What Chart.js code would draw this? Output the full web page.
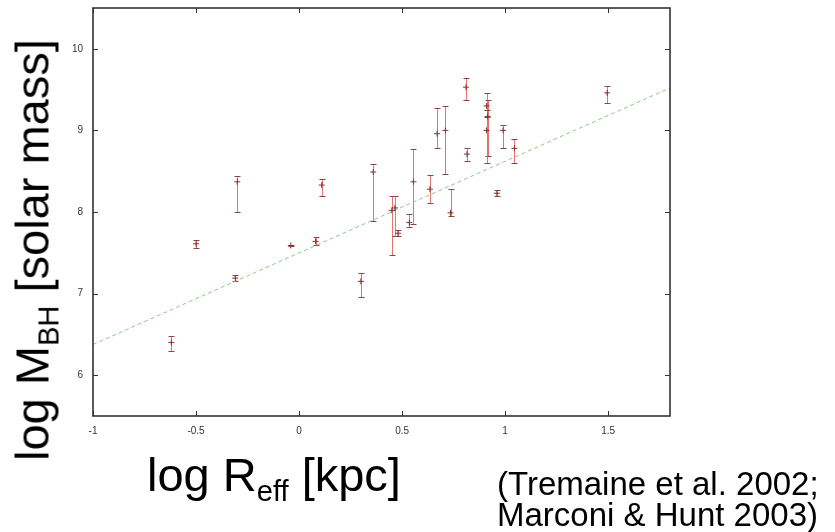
<!DOCTYPE html>
<html><head><meta charset="utf-8">
<script src="https://cdn.jsdelivr.net/npm/chart.js@4/dist/chart.umd.min.js"></script>
<style>
html,body{margin:0;padding:0;background:#fff;}
#wrap{position:relative;width:835px;height:532px;overflow:hidden;background:#fff;}
#c{position:absolute;left:0;top:0;}
.t{position:absolute;font-family:"Liberation Sans",Arial,Helvetica,sans-serif;color:#000;white-space:nowrap;line-height:1;}
.sub{font-size:62%;position:relative;top:0.36em;}
#ytitle{left:32px;top:250px;font-size:47px;transform:translate(-50%,-50%) rotate(-90deg);}
#xtitle{left:147px;top:451px;font-size:47px;}
#cite{left:497px;top:468px;font-size:33px;line-height:31px;}
</style></head><body>
<div id="wrap">
<canvas id="c" width="835" height="532"></canvas>
<div class="t" id="ytitle">log M<span class="sub">BH</span> [solar mass]</div>
<div class="t" id="xtitle">log R<span class="sub">eff</span> [kpc]</div>
<div class="t" id="cite">(Tremaine et al. 2002;<br>Marconi &amp; Hunt 2003)</div>
</div>
<script>
// ---- data ----
const logReff = [-0.62, -0.50, -0.31, -0.30, -0.04, 0.08, 0.11, 0.30, 0.36, 0.45, 0.465, 0.48, 0.535, 0.555, 0.635, 0.67, 0.71, 0.735, 0.81, 0.815, 0.91, 0.915, 0.91, 0.96, 0.99, 1.045, 1.495];
const logMbh  = [6.40, 7.61, 7.19, 8.37, 7.59, 7.64, 8.33, 7.15, 8.49, 8.02, 8.05, 7.74, 7.87, 8.37, 8.28, 8.96, 9.00, 7.99, 9.53, 8.71, 9.30, 9.17, 9.00, 8.23, 9.00, 8.78, 9.46];
const errUp   = [0.08, 0.05, 0.04, 0.07, 0.01, 0.05, 0.08, 0.10, 0.10, 0.18, 0.15, 0.04, 0.11, 0.40, 0.17, 0.32, 0.30, 0.29, 0.11, 0.08, 0.16, 0.20, 0.25, 0.04, 0.07, 0.12, 0.09];
const errDown = [0.10, 0.05, 0.04, 0.37, 0.01, 0.05, 0.13, 0.19, 0.60, 0.55, 0.35, 0.03, 0.05, 0.52, 0.17, 0.17, 0.53, 0.04, 0.16, 0.09, 0.13, 0.48, 0.40, 0.04, 0.22, 0.18, 0.12];
const fitLineX = [-1, 1.8];
const fitLineY = [6.376, 9.52];
const xTickValues = [-1, -0.5, 0, 0.5, 1, 1.5];
const yTickValues = [6, 7, 8, 9, 10];
const xRange = [-1, 1.8];
const yRange = [5.5, 10.5];

const barColor = 'rgba(225,90,90,0.85)';
const capColor = '#8c4646';
const pointColor = '#8a2f2f';

const errorBars = {
  id: 'errorBars',
  beforeDatasetsDraw(chart) {
    const {ctx, scales: {x, y}} = chart;
    ctx.save();
    ctx.lineWidth = 1;
    for (let i = 0; i < logReff.length; i++) {
      const px = Math.round(x.getPixelForValue(logReff[i])) + 0.5;
      const yt = Math.round(y.getPixelForValue(logMbh[i] + errUp[i])) + 0.5;
      const yb = Math.round(y.getPixelForValue(logMbh[i] - errDown[i])) + 0.5;
      ctx.strokeStyle = barColor;
      ctx.beginPath(); ctx.moveTo(px, yt); ctx.lineTo(px, yb); ctx.stroke();
      ctx.strokeStyle = capColor;
      ctx.beginPath();
      ctx.moveTo(px - 3, yt); ctx.lineTo(px + 3, yt);
      ctx.moveTo(px - 3, yb); ctx.lineTo(px + 3, yb);
      ctx.stroke();
    }
    ctx.restore();
  }
};

const frame = {
  id: 'frame',
  afterDraw(chart) {
    const {ctx, chartArea: a, scales: {x, y}} = chart;
    ctx.save();
    ctx.strokeStyle = '#333';
    ctx.lineWidth = 1;
    ctx.beginPath();
    xTickValues.forEach(v => {
      const px = Math.round(x.getPixelForValue(v)) + 0.5;
      ctx.moveTo(px, a.bottom); ctx.lineTo(px, a.bottom - 5);
      ctx.moveTo(px, a.top); ctx.lineTo(px, a.top + 5);
    });
    yTickValues.forEach(v => {
      const py = Math.round(y.getPixelForValue(v)) + 0.5;
      ctx.moveTo(a.left, py); ctx.lineTo(a.left + 5, py);
      ctx.moveTo(a.right, py); ctx.lineTo(a.right - 5, py);
    });
    ctx.stroke();
    ctx.lineWidth = 1.6;
    ctx.strokeRect(a.left, a.top, a.right - a.left, a.bottom - a.top);
    ctx.restore();
  }
};

new Chart(document.getElementById('c'), {
  data: {
    datasets: [
      {
        type: 'scatter',
        label: 'galaxies',
        data: logReff.map((v, i) => ({x: v, y: logMbh[i]})),
        pointStyle: 'cross',
        radius: 3,
        borderColor: pointColor,
        borderWidth: 1,
        order: 1
      },
      {
        type: 'line',
        label: 'fit',
        data: fitLineX.map((v, i) => ({x: v, y: fitLineY[i]})),
        borderColor: '#88cc88',
        borderWidth: 1,
        borderDash: [4, 3],
        pointRadius: 0,
        fill: false,
        order: 2
      }
    ]
  },
  options: {
    responsive: false,
    animation: false,
    events: [],
    layout: {padding: {left: 0, top: 8, right: 165, bottom: 0}},
    plugins: {legend: {display: false}, tooltip: {enabled: false}},
    scales: {
      x: {
        type: 'linear', min: xRange[0], max: xRange[1],
        afterBuildTicks: s => { s.ticks = xTickValues.map(v => ({value: v})); },
        afterFit: s => { s.height = 116; s.paddingLeft = 0; s.paddingRight = 0; },
        grid: {display: false, drawTicks: false},
        border: {display: false},
        ticks: {padding: 9, color: '#333', font: {family: '"Liberation Sans", Arial, sans-serif', size: 10},
                maxRotation: 0, autoSkip: false, callback: v => String(v)}
      },
      y: {
        type: 'linear', min: yRange[0], max: yRange[1],
        afterBuildTicks: s => { s.ticks = yTickValues.map(v => ({value: v})); },
        afterFit: s => { s.width = 93; s.paddingTop = 0; s.paddingBottom = 0; },
        grid: {display: false, drawTicks: false},
        border: {display: false},
        ticks: {padding: 10, color: '#333', font: {family: '"Liberation Sans", Arial, sans-serif', size: 10},
                autoSkip: false, callback: v => String(v)}
      }
    }
  },
  plugins: [errorBars, frame]
});
</script>
</body></html>
